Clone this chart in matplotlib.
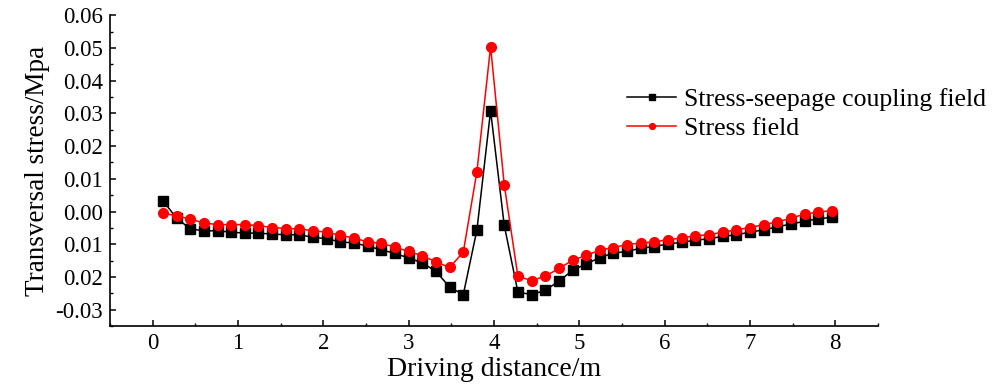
import matplotlib
matplotlib.use('Agg')
import matplotlib.pyplot as plt
from matplotlib.ticker import MultipleLocator

# Driving distance (m)
distance = [0.12, 0.28, 0.44, 0.60, 0.76, 0.92, 1.08, 1.24, 1.40, 1.56,
            1.72, 1.88, 2.04, 2.20, 2.36, 2.52, 2.68, 2.84, 3.00, 3.16,
            3.32, 3.48, 3.64, 3.80, 3.96, 4.12, 4.28, 4.44, 4.60, 4.76,
            4.92, 5.08, 5.24, 5.40, 5.56, 5.72, 5.88, 6.04, 6.20, 6.36,
            6.52, 6.68, 6.84, 7.00, 7.16, 7.32, 7.48, 7.64, 7.80, 7.96]

# Transversal stress (MPa)
coupling = [0.0033, -0.0020, -0.0053, -0.0059, -0.0059, -0.0063, -0.0066, -0.0066, -0.0069, -0.0071,
            -0.0071, -0.0079, -0.0083, -0.0093, -0.0096, -0.0106, -0.0117, -0.0128, -0.0142, -0.0157,
            -0.0183, -0.0231, -0.0254, -0.0056, 0.0308, -0.0042, -0.0246, -0.0254, -0.0241, -0.0213,
            -0.0180, -0.0160, -0.0141, -0.0127, -0.0122, -0.0112, -0.0107, -0.0099, -0.0094, -0.0088,
            -0.0083, -0.0076, -0.0071, -0.0063, -0.0056, -0.0047, -0.0038, -0.0030, -0.0022, -0.0018]

stress = [-0.0005, -0.0013, -0.0023, -0.0035, -0.0040, -0.0040, -0.0040, -0.0043, -0.0049, -0.0052,
          -0.0053, -0.0059, -0.0063, -0.0073, -0.0081, -0.0093, -0.0097, -0.0109, -0.0122, -0.0135,
          -0.0154, -0.0171, -0.0124, 0.0122, 0.0504, 0.0082, -0.0198, -0.0211, -0.0198, -0.0174,
          -0.0149, -0.0134, -0.0118, -0.0110, -0.0101, -0.0096, -0.0093, -0.0086, -0.0081, -0.0074,
          -0.0071, -0.0063, -0.0056, -0.0049, -0.0040, -0.0032, -0.0020, -0.0008, -0.0002, 0.0003]

yticks = [-0.03, -0.02, -0.01, 0.00, 0.01, 0.02, 0.03, 0.04, 0.05, 0.06]
ytick_labels = ['-0.03', '0.02', '0.01', '0.00', '0.01', '0.02', '0.03', '0.04', '0.05', '0.06']

plt.rcParams['font.family'] = ['Liberation Serif', 'DejaVu Serif']

fig = plt.figure(figsize=(10, 3.9), dpi=100)
ax = fig.add_axes([0.11, 0.164, 0.768, 0.797])

ax.plot(distance, coupling, color='black', lw=1.1, marker='s', ms=6.5,
        label='Stress-seepage coupling field')
ax.plot(distance, stress, color='red', lw=1.1, marker='o', ms=7,
        label='Stress field')

ax.set_xlim(-0.5, 8.5)
ax.set_ylim(-0.035, 0.06)
ax.xaxis.set_major_locator(MultipleLocator(1))
ax.xaxis.set_minor_locator(MultipleLocator(0.5))
ax.set_yticks(yticks)
ax.set_yticklabels(ytick_labels)
ax.yaxis.set_minor_locator(MultipleLocator(0.005))

for side in ['top', 'right']:
    ax.spines[side].set_visible(False)
for side in ['left', 'bottom']:
    ax.spines[side].set_linewidth(1.2)

ax.tick_params(which='major', direction='in', length=4, width=1.1, labelsize=16.5)
ax.tick_params(which='minor', direction='in', length=2, width=1.0)
ax.tick_params(axis='x', pad=5)
ax.tick_params(axis='y', pad=5)

ax.set_xlabel('Driving distance/m', fontsize=20, labelpad=2)
ax.set_ylabel('Transversal stress/Mpa', fontsize=19.5, labelpad=4)

ax.legend(loc='upper left', bbox_to_anchor=(0.66, 0.8), frameon=False,
          fontsize=18.5, handlelength=1.9, markerscale=0.6,
          handletextpad=0.3, labelspacing=0.25, borderaxespad=0)

fig.savefig('out.png', dpi=100)
